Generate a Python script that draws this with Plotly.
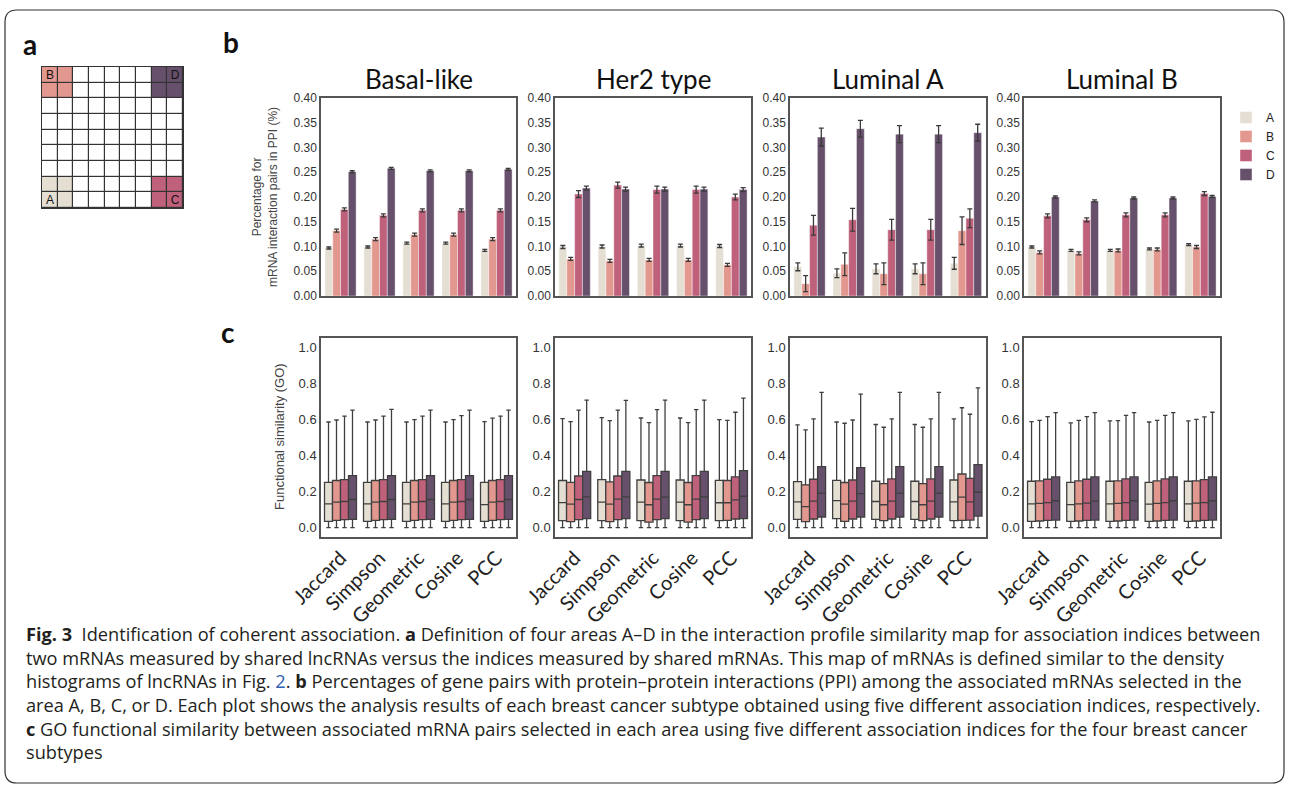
import plotly.graph_objects as go

W, H = 1290, 785

def px_x(v):
    return v / W

def px_y(v):
    return 1 - v / H

# ---------------- data ----------------
subtypes = ["Basal-like", "Her2 type", "Luminal A", "Luminal B"]
indices = ["Jaccard", "Simpson", "Geometric", "Cosine", "PCC"]
areas = ["A", "B", "C", "D"]
area_colors = ["#E5DFD3", "#E3988F", "#C0617C", "#66506B"]

# Panel b: percentage of mRNA interaction pairs in PPI (mean, error)
ppi_basal = {"A": [0.097, 0.099, 0.107, 0.107, 0.092],
             "B": [0.132, 0.115, 0.124, 0.124, 0.115],
             "C": [0.175, 0.163, 0.173, 0.173, 0.173],
             "D": [0.251, 0.258, 0.253, 0.253, 0.256]}
ppi_basal_err = {"A": [0.002] * 5, "B": [0.003] * 5, "C": [0.003] * 5, "D": [0.002] * 5}

ppi_her2 = {"A": [0.099, 0.100, 0.102, 0.102, 0.101],
            "B": [0.075, 0.071, 0.073, 0.073, 0.063],
            "C": [0.206, 0.224, 0.215, 0.215, 0.200],
            "D": [0.218, 0.216, 0.216, 0.216, 0.215]}
ppi_her2_err = {"A": [0.003] * 5, "B": [0.003] * 5,
                "C": [0.007, 0.006, 0.007, 0.007, 0.006], "D": [0.004] * 5}

ppi_luma = {"A": [0.059, 0.046, 0.055, 0.055, 0.066],
            "B": [0.025, 0.064, 0.045, 0.045, 0.132],
            "C": [0.143, 0.154, 0.134, 0.134, 0.157],
            "D": [0.321, 0.338, 0.327, 0.327, 0.330]}
ppi_luma_err = {"A": [0.008, 0.009, 0.010, 0.010, 0.012],
                "B": [0.016, 0.023, 0.022, 0.022, 0.028],
                "C": [0.020, 0.023, 0.021, 0.021, 0.019],
                "D": [0.018, 0.017, 0.017, 0.017, 0.017]}

ppi_lumb = {"A": [0.099, 0.092, 0.092, 0.095, 0.104],
            "B": [0.088, 0.086, 0.092, 0.094, 0.099],
            "C": [0.162, 0.154, 0.164, 0.164, 0.207],
            "D": [0.200, 0.192, 0.198, 0.198, 0.201]}
ppi_lumb_err = {"A": [0.002] * 5, "B": [0.003] * 5, "C": [0.004] * 5, "D": [0.002] * 5}

ppi_values = [ppi_basal, ppi_her2, ppi_luma, ppi_lumb]
ppi_errors = [ppi_basal_err, ppi_her2_err, ppi_luma_err, ppi_lumb_err]

# Panel c: GO functional similarity box statistics (lower whisker at 0)
go_basal_q1 = {"A": [0.035] * 5, "B": [0.040] * 5, "C": [0.044] * 5, "D": [0.046] * 5}
go_basal_med = {"A": [0.132, 0.132, 0.132, 0.132, 0.128], "B": [0.141] * 5,
                "C": [0.145] * 5, "D": [0.156] * 5}
go_basal_q3 = {"A": [0.251] * 5, "B": [0.261] * 5, "C": [0.266] * 5, "D": [0.288] * 5}
go_basal_up = {"A": [0.585, 0.585, 0.585, 0.585, 0.587],
               "B": [0.596, 0.596, 0.598, 0.598, 0.606],
               "C": [0.618, 0.618, 0.618, 0.620, 0.618],
               "D": [0.651, 0.655, 0.651, 0.651, 0.651]}

go_her2_q1 = {"A": [0.039] * 5, "B": [0.033, 0.033, 0.031, 0.031, 0.040],
              "C": [0.044, 0.044, 0.044, 0.044, 0.048], "D": [0.050] * 5}
go_her2_med = {"A": [0.139, 0.141, 0.141, 0.141, 0.138],
               "B": [0.130, 0.130, 0.127, 0.127, 0.138],
               "C": [0.156, 0.158, 0.158, 0.158, 0.154],
               "D": [0.171, 0.171, 0.169, 0.171, 0.174]}
go_her2_q3 = {"A": [0.261, 0.266, 0.264, 0.264, 0.262],
              "B": [0.251, 0.253, 0.250, 0.250, 0.261],
              "C": [0.286, 0.286, 0.288, 0.288, 0.281],
              "D": [0.312, 0.312, 0.312, 0.312, 0.316]}
go_her2_up = {"A": [0.604, 0.609, 0.607, 0.607, 0.598],
              "B": [0.587, 0.593, 0.582, 0.582, 0.594],
              "C": [0.651, 0.651, 0.653, 0.653, 0.639],
              "D": [0.706, 0.705, 0.706, 0.706, 0.717]}

go_luma_q1 = {"A": [0.046, 0.050, 0.046, 0.046, 0.039],
              "B": [0.033, 0.035, 0.039, 0.039, 0.040],
              "C": [0.048, 0.048, 0.048, 0.048, 0.042],
              "D": [0.059, 0.059, 0.059, 0.059, 0.064]}
go_luma_med = {"A": [0.143, 0.150, 0.145, 0.145, 0.143],
               "B": [0.116, 0.130, 0.127, 0.127, 0.169],
               "C": [0.147, 0.147, 0.147, 0.147, 0.143],
               "D": [0.191, 0.189, 0.191, 0.191, 0.196]}
go_luma_q3 = {"A": [0.255, 0.262, 0.257, 0.257, 0.264],
              "B": [0.237, 0.250, 0.244, 0.244, 0.297],
              "C": [0.268, 0.264, 0.270, 0.270, 0.273],
              "D": [0.338, 0.332, 0.338, 0.338, 0.349]}
go_luma_up = {"A": [0.569, 0.585, 0.571, 0.571, 0.602],
              "B": [0.541, 0.578, 0.556, 0.556, 0.664],
              "C": [0.602, 0.596, 0.602, 0.602, 0.628],
              "D": [0.749, 0.739, 0.749, 0.749, 0.774]}

go_lumb_q1 = {"A": [0.035] * 5, "B": [0.037] * 5, "C": [0.040] * 5, "D": [0.042] * 5}
go_lumb_med = {"A": [0.132, 0.128, 0.132, 0.130, 0.132],
               "B": [0.134, 0.132, 0.134, 0.134, 0.136],
               "C": [0.139, 0.136, 0.139, 0.139, 0.139],
               "D": [0.149, 0.147, 0.149, 0.149, 0.149]}
go_lumb_q3 = {"A": [0.257, 0.251, 0.257, 0.251, 0.257], "B": [0.259] * 5,
              "C": [0.268, 0.268, 0.270, 0.270, 0.266], "D": [0.281] * 5}
go_lumb_up = {"A": [0.587, 0.580, 0.591, 0.585, 0.591],
              "B": [0.594, 0.594, 0.593, 0.594, 0.600],
              "C": [0.615, 0.615, 0.622, 0.622, 0.613],
              "D": [0.637, 0.637, 0.637, 0.637, 0.639]}

go_q1 = [go_basal_q1, go_her2_q1, go_luma_q1, go_lumb_q1]
go_med = [go_basal_med, go_her2_med, go_luma_med, go_lumb_med]
go_q3 = [go_basal_q3, go_her2_q3, go_luma_q3, go_lumb_q3]
go_up = [go_basal_up, go_her2_up, go_luma_up, go_lumb_up]

# Panel a: 9x9 similarity map, area codes (0 = none, 1..4 = A..D), top row first
map_codes = [
    [2, 2, 0, 0, 0, 0, 0, 4, 4],
    [2, 2, 0, 0, 0, 0, 0, 4, 4],
    [0, 0, 0, 0, 0, 0, 0, 0, 0],
    [0, 0, 0, 0, 0, 0, 0, 0, 0],
    [0, 0, 0, 0, 0, 0, 0, 0, 0],
    [0, 0, 0, 0, 0, 0, 0, 0, 0],
    [0, 0, 0, 0, 0, 0, 0, 0, 0],
    [1, 1, 0, 0, 0, 0, 0, 3, 3],
    [1, 1, 0, 0, 0, 0, 0, 3, 3],
]
map_labels = [["" for _ in range(9)] for _ in range(9)]
map_labels[0][0] = "B"
map_labels[0][8] = "D"
map_labels[8][0] = "A"
map_labels[8][8] = "C"

caption_lines = [
    "<b>Fig. 3</b>  Identification of coherent association. <b>a</b> Definition of four areas A–D in the interaction profile similarity map for association indices between",
    "two mRNAs measured by shared lncRNAs versus the indices measured by shared mRNAs. This map of mRNAs is defined similar to the density",
    "histograms of lncRNAs in Fig. <span style='color:#2f5fb3'>2</span>. <b>b</b> Percentages of gene pairs with protein–protein interactions (PPI) among the associated mRNAs selected in the",
    "area A, B, C, or D. Each plot shows the analysis results of each breast cancer subtype obtained using five different association indices, respectively.",
    "<b>c</b> GO functional similarity between associated mRNA pairs selected in each area using five different association indices for the four breast cancer",
    "subtypes",
]

# ---------------- layout geometry (pixels) ----------------
col_px = [(321, 516), (555, 751), (790, 985.5), (1024, 1220)]
bar_row_px = (98, 296)
box_row_px = (338, 536.7)
grid_px_x = (42, 183)
grid_px_y = (67, 208)

TICK_FONT = dict(family="Liberation Sans, Arial, sans-serif", size=12, color="#333333")
GEO_FONT = "Lato, 'Open Sans', sans-serif"
CAP_FONT = "'Open Sans', 'Noto Sans', sans-serif"
FRAME = "#555555"

fig = go.Figure()
layout = dict(
    width=W, height=H,
    margin=dict(l=0, r=0, t=0, b=0, autoexpand=False),
    paper_bgcolor="white", plot_bgcolor="white",
    barmode="group", bargap=0.2, bargroupgap=0,
    boxmode="group", boxgap=0.18, boxgroupgap=0,
    showlegend=True,
    legend=dict(x=px_x(1226), y=px_y(103), xanchor="left", yanchor="top",
                font=dict(family="Liberation Sans, Arial, sans-serif", size=12, color="#222"),
                bgcolor="rgba(0,0,0,0)", traceorder="normal", itemwidth=30),
)

annotations = []

for i, st in enumerate(subtypes):
    bi = i + 1
    xi = i + 5
    xa_b = "x" if bi == 1 else f"x{bi}"
    ya_b = "y" if bi == 1 else f"y{bi}"
    xa_c, ya_c = f"x{xi}", f"y{xi}"
    dom_x = [px_x(col_px[i][0]), px_x(col_px[i][1])]

    axis_common = dict(showgrid=False, zeroline=False, showline=True, mirror=True,
                       linecolor=FRAME, linewidth=1.5, ticks="", automargin=False)
    layout["xaxis" if bi == 1 else f"xaxis{bi}"] = dict(
        domain=dom_x, anchor=ya_b, range=[-0.5, 4.5], showticklabels=False,
        type="category", **axis_common)
    layout["yaxis" if bi == 1 else f"yaxis{bi}"] = dict(
        domain=[px_y(bar_row_px[1]), px_y(bar_row_px[0])], anchor=xa_b,
        range=[0, 0.4], tickvals=[k * 0.05 for k in range(9)], tickformat=".2f",
        tickfont=TICK_FONT, **axis_common)
    layout[f"xaxis{xi}"] = dict(
        domain=dom_x, anchor=ya_c, range=[-0.5, 4.5], type="category",
        tickangle=-45, tickfont=dict(family=GEO_FONT, size=20, color="#222"),
        **axis_common)
    layout[f"yaxis{xi}"] = dict(
        domain=[px_y(box_row_px[1]), px_y(box_row_px[0])], anchor=xa_c,
        range=[-0.05, 1.05], tickvals=[0, 0.2, 0.4, 0.6, 0.8, 1.0], tickformat=".1f",
        tickfont=dict(family="Liberation Sans, Arial, sans-serif", size=13, color="#333"),
        **axis_common)

    for j, a in enumerate(areas):
        fig.add_trace(go.Bar(
            x=indices, y=ppi_values[i][a], name=a, legendgroup=a, showlegend=(i == 0),
            offsetgroup=a, alignmentgroup=f"bar{i}",
            marker=dict(color=area_colors[j], line=dict(width=0.6, color="rgba(255,255,255,0.7)")),
            error_y=dict(type="data", array=ppi_errors[i][a], color="#3a3a3a",
                         thickness=1.3, width=2.5),
            xaxis=xa_b, yaxis=ya_b, hoverinfo="skip"))
        fig.add_trace(go.Box(
            x=indices, q1=go_q1[i][a], median=go_med[i][a], q3=go_q3[i][a],
            lowerfence=[0.0] * 5, upperfence=go_up[i][a],
            offsetgroup=a, alignmentgroup=f"box{i}",
            name=a, legendgroup=a, showlegend=False, boxpoints=False,
            fillcolor=area_colors[j], line=dict(color="#3f3f3f", width=1.3),
            whiskerwidth=0.55, xaxis=xa_c, yaxis=ya_c, hoverinfo="skip"))

    annotations.append(dict(
        text=st, xref="paper", yref="paper",
        x=(dom_x[0] + dom_x[1]) / 2, y=px_y(79), xanchor="center", yanchor="middle",
        showarrow=False, font=dict(family=GEO_FONT, size=26, color="#111")))

# panel a heatmap
cs = [[0, "white"], [0.125, "white"], [0.125, area_colors[0]], [0.375, area_colors[0]],
      [0.375, area_colors[1]], [0.625, area_colors[1]], [0.625, area_colors[2]],
      [0.875, area_colors[2]], [0.875, area_colors[3]], [1, area_colors[3]]]
fig.add_trace(go.Heatmap(
    z=map_codes, text=map_labels, texttemplate="%{text}",
    textfont=dict(family="Liberation Sans, Arial, sans-serif", size=12, color="#111"),
    colorscale=cs, zmin=0, zmax=4, showscale=False, xgap=1.2, ygap=1.2,
    xaxis="x9", yaxis="y9", hoverinfo="skip"))
layout["xaxis9"] = dict(domain=[px_x(grid_px_x[0]), px_x(grid_px_x[1])], anchor="y9",
                        range=[-0.5, 8.5], showticklabels=False, showgrid=False,
                        zeroline=False, showline=True, mirror=True, linecolor="#333",
                        linewidth=1.2, ticks="", automargin=False)
layout["yaxis9"] = dict(domain=[px_y(grid_px_y[1]), px_y(grid_px_y[0])], anchor="x9",
                        range=[8.5, -0.5], showticklabels=False, showgrid=False,
                        zeroline=False, showline=True, mirror=True, linecolor="#333",
                        linewidth=1.2, ticks="", automargin=False)

# axis titles
annotations.append(dict(
    text="Percentage for<br>mRNA interaction pairs in PPI (%)", xref="paper", yref="paper",
    x=px_x(265), y=px_y(197), xanchor="center", yanchor="middle", textangle=-90,
    showarrow=False, font=dict(family="Liberation Sans, Arial, sans-serif", size=12, color="#444")))
annotations.append(dict(
    text="Functional similarity (GO)", xref="paper", yref="paper",
    x=px_x(279), y=px_y(437), xanchor="center", yanchor="middle", textangle=-90,
    showarrow=False, font=dict(family="Liberation Sans, Arial, sans-serif", size=13, color="#444")))

# panel labels
for lab, lx, ly in [("a", 30, 44), ("b", 231, 42), ("c", 228, 332)]:
    annotations.append(dict(
        text=f"<b>{lab}</b>", xref="paper", yref="paper", x=px_x(lx), y=px_y(ly),
        xanchor="center", yanchor="middle", showarrow=False,
        font=dict(family=GEO_FONT, size=28, color="#111")))

# caption
cap_y = [634, 658, 681, 705, 729, 752]
for line, cy in zip(caption_lines, cap_y):
    annotations.append(dict(
        text=line, xref="paper", yref="paper", x=px_x(24), y=px_y(cy),
        xanchor="left", yanchor="middle", showarrow=False, align="left",
        font=dict(family=CAP_FONT, size=18.2, color="#231f20")))

layout["annotations"] = annotations

# frame + grid background
x0, x1, yt, yb, r = 5, 1284, 10, 783, 12
def P(xp, yp):
    return f"{px_x(xp):.5f},{px_y(yp):.5f}"
frame_path = (f"M{P(x0, yb - r)} L{P(x0, yt + r)} Q{P(x0, yt)} {P(x0 + r, yt)} "
              f"L{P(x1 - r, yt)} Q{P(x1, yt)} {P(x1, yt + r)} L{P(x1, yb - r)} "
              f"Q{P(x1, yb)} {P(x1 - r, yb)} L{P(x0 + r, yb)} Q{P(x0, yb)} {P(x0, yb - r)}")
layout["shapes"] = [
    dict(type="path", path=frame_path, xref="paper", yref="paper",
         line=dict(color="#333", width=1.2)),
    dict(type="rect", xref="x9 domain", yref="y9 domain", x0=0, x1=1, y0=0, y1=1,
         fillcolor="#333", line=dict(width=0), layer="below"),
]

fig.update_layout(**layout)
fig.write_html("out.html", config={"displayModeBar": False},
               post_script="document.body.style.margin='0';document.body.style.overflow='hidden';")
